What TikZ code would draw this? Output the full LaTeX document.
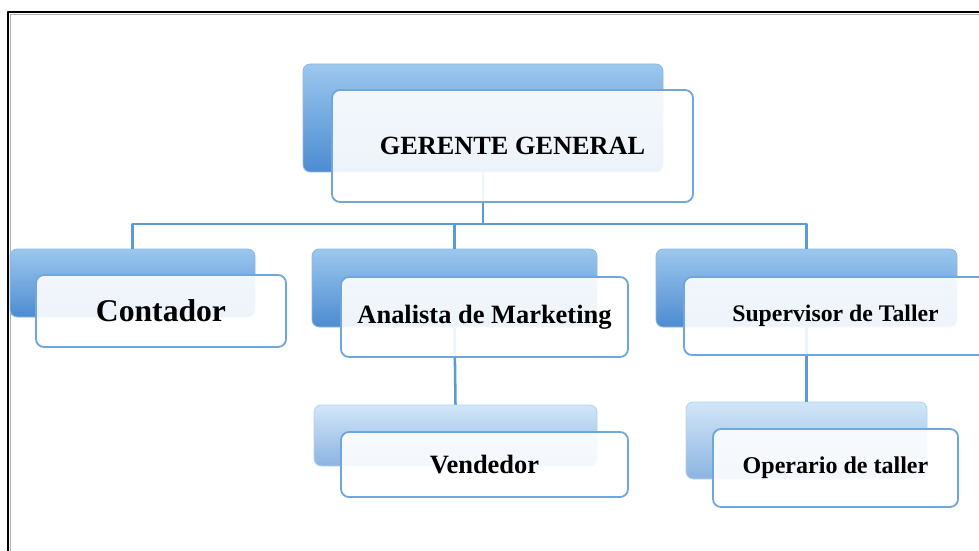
\documentclass[tikz,border=0pt]{standalone}
\usepackage{fontspec}
\setmainfont{Liberation Serif}
\definecolor{linkblue}{HTML}{5B9BD5}
\definecolor{edgeblue}{HTML}{6FA6DC}
\definecolor{topone}{HTML}{9CC7EE}
\definecolor{midone}{HTML}{5E9DD9}
\definecolor{lowone}{HTML}{4C8CD1}
\definecolor{toptwo}{HTML}{D2E6F8}
\definecolor{midtwo}{HTML}{A2C5EC}
\definecolor{lowtwo}{HTML}{8CB4E2}
\begin{document}
\begin{tikzpicture}[line cap=round, line join=round,
    lvl1/.style={inner sep=0pt, rounded corners=0.18cm, draw=edgeblue!80, line width=0.6pt,
      top color=topone, middle color=midone, bottom color=lowone},
    lvl2/.style={inner sep=0pt, rounded corners=0.18cm, draw=edgeblue!50, line width=0.6pt,
      top color=toptwo, middle color=midtwo, bottom color=lowtwo},
    card/.style={inner sep=0pt, rounded corners=0.2cm, draw=edgeblue, line width=1.3pt,
      fill=white, fill opacity=0.9, text opacity=1, font=\bfseries},
    link/.style={draw=linkblue, line width=1.8pt, line cap=butt},
    frame/.style={line width=1.2pt, line cap=butt}]
  \useasboundingbox (0,0) rectangle (24.475,-13.775);
  \clip (0,0) rectangle (24.475,-13.775);
  % outer frame
  \draw[gray!60, line width=0.8pt] (0.27,-13.9) -- (0.27,-0.37) -- (24.6,-0.37);
  \draw[frame] (0.2,-13.9) -- (0.2,-0.3) -- (24.6,-0.3);
  % back boxes
  \node[lvl1, minimum width=9.0cm, minimum height=2.7cm] (gb) at (12.075,-2.95) {};
  \node[lvl1, minimum width=6.125cm, minimum height=1.7cm] (cb) at (3.3125,-7.075) {};
  \node[lvl1, minimum width=7.125cm, minimum height=1.95cm] (ab) at (11.3625,-7.2) {};
  \node[lvl1, minimum width=7.525cm, minimum height=1.95cm] (sb) at (20.1625,-7.2) {};
  \node[lvl2, minimum width=7.075cm, minimum height=1.525cm] (vb) at (11.3875,-10.8875) {};
  \node[lvl2, minimum width=6.025cm, minimum height=1.925cm] (ob) at (20.1625,-11.0125) {};
  % connectors
  \coordinate (hub) at (12.075,-5.6);
  \draw[link] (gb.south) -- (hub);
  \draw[link] (hub) -| (cb.north);
  \draw[link] (hub) -| (ab.north);
  \draw[link] (hub) -| (sb.north);
  \draw[link] (ab.south) -- (vb.north);
  \draw[link] (sb.south) -- (ob.north);
  % front boxes
  \node[card, minimum width=9.025cm, minimum height=2.8cm] (gf) at (12.8125,-3.65)
    {\fontsize{18.7}{22}\selectfont GERENTE GENERAL};
  \node[card, minimum width=6.25cm, minimum height=1.8cm] (cf) at (4.025,-7.775)
    {\fontsize{22.5}{26}\selectfont Contador};
  \node[card, minimum width=7.175cm, minimum height=2.0cm] (af) at (12.1125,-7.925)
    {\fontsize{18.8}{22}\selectfont Analista de Marketing};
  \node[card, minimum width=7.575cm, minimum height=1.95cm] (sf) at (20.8875,-7.9)
    {\fontsize{16.9}{20}\selectfont Supervisor de Taller};
  \node[card, minimum width=7.175cm, minimum height=1.625cm] (vf) at (12.1125,-11.6125)
    {\fontsize{18.8}{22}\selectfont Vendedor};
  \node[card, minimum width=6.125cm, minimum height=1.95cm] (of) at (20.8875,-11.7)
    {\fontsize{17.1}{20}\selectfont Operario de taller};
\end{tikzpicture}
\end{document}
